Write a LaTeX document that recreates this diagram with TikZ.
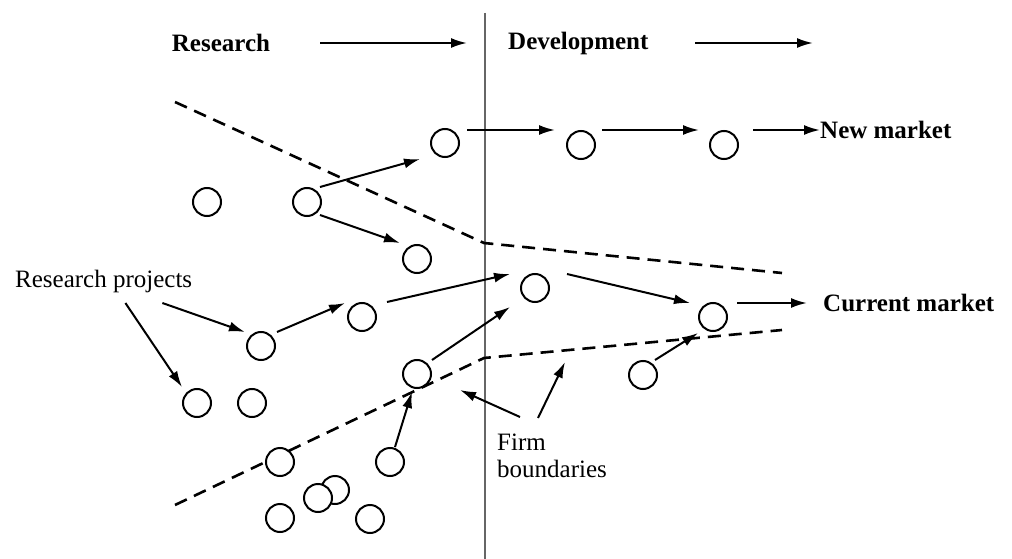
\documentclass[tikz,border=0pt]{standalone}
\usepackage{fontspec}
\setmainfont{Liberation Serif}
\usetikzlibrary{arrows.meta,calc}
\begin{document}
\begin{tikzpicture}[x=1pt,y=-1pt,
  proj/.style={circle,draw,line width=2pt,fill=white,minimum size=28pt,inner sep=0pt},
  flow/.style={-{Latex[length=16pt,width=10pt]},line width=2pt},
  bound/.style={line width=2.6pt,dash pattern=on 13pt off 8pt},
  lbl/.style={font=\fontsize{25}{27}\selectfont,inner sep=0pt},
  hdr/.style={font=\fontsize{25}{27}\selectfont\bfseries,inner sep=0pt}]
\fill[white] (0,0) rectangle (1012,559);
\useasboundingbox (0,0) rectangle (1012,559);

% divider between research and development
\coordinate (vtop) at (485,13);
\coordinate (vbot) at (485,559);
\draw[line width=2.6pt,black!60] (vtop) -- (vbot);

% firm boundaries (dashed)
\coordinate (u1) at (175,102);
\coordinate (u2) at (484,243);
\coordinate (u3) at (782,273);
\coordinate (l1) at (175,505);
\coordinate (l2) at (484,358);
\coordinate (l3) at (782,330);
\draw[bound] (u1) -- (u2) -- (u3);
\draw[bound] (l1) -- (l2) -- (l3);

% headers
\node[hdr] (res) at (221,43) {Research};
\node[hdr,anchor=west] (dev) at (508,43) {Development};
\coordinate (ra1) at (320,43);
\coordinate (ra2) at (467,43);
\coordinate (da1) at (695,43);
\coordinate (da2) at (813,43);
\draw[flow] (ra1) -- (ra2);
\draw[flow] (da1) -- (da2);

% projects
\node[proj] (c1) at (445,143) {};
\node[proj] (c2) at (581,145) {};
\node[proj] (c3) at (724,145) {};
\node[proj] (c4) at (207,202) {};
\node[proj] (c5) at (307,202) {};
\node[proj] (c6) at (417,259) {};
\node[proj] (c7) at (535,288) {};
\node[proj] (c8) at (362,317) {};
\node[proj] (c9) at (261,346) {};
\node[proj] (c10) at (713,317) {};
\node[proj] (c11) at (417,374) {};
\node[proj] (c12) at (643,375) {};
\node[proj] (c13) at (197,403) {};
\node[proj] (c14) at (252,403) {};
\node[proj] (c15) at (280,462) {};
\node[proj] (c16) at (390,462) {};
\node[proj] (c17) at (335,490) {};
\node[proj] (c18) at (318,498) {};
\node[proj] (c19) at (280,518) {};
\node[proj] (c20) at (370,519) {};

% labels
\node[hdr,anchor=west] (nm) at (820,130) {New market};
\node[hdr,anchor=west] (cm) at (823,303) {Current market};
\node[lbl,anchor=west] (rp) at (15,281) {Research projects};
\node[lbl,anchor=north west,align=left] (fb) at (497,434) {Firm\\boundaries};
\coordinate (fbt1) at (460,390);
\coordinate (fbt2) at (565,362);

% flows
\draw[flow] ($(c1)+(22,-13)$) -- ($(c2)+(-26,-15)$);
\draw[flow] ($(c2)+(21,-15)$) -- ($(c3)+(-25,-15)$);
\draw[flow] ($(c3)+(29,-15)$) -- (nm.west);
\draw[flow] ($(c5)+(13,-15)$) -- ($(c1)+(-25,16)$);
\draw[flow] ($(c5)+(13,13)$) -- ($(c6)+(-17,-16)$);
\draw[flow] ($(c9)+(16,-14)$) -- ($(c8)+(-17,-14)$);
\draw[flow] ($(c8)+(25,-15)$) -- ($(c7)+(-25,-14)$);
\draw[flow] ($(c11)+(15,-14)$) -- ($(c7)+(-25,19)$);
\draw[flow] ($(c7)+(32,-14)$) -- ($(c10)+(-23,-14)$);
\draw[flow] ($(c10)+(24,-14)$) -- ([xshift=-16pt]cm.west);
\draw[flow] ($(c12)+(12,-15)$) -- ($(c10)+(-15,16)$);
\draw[flow] ($(c16)+(5,-15)$) -- ($(c11)+(-5,18)$);

% pointers from labels
\draw[flow] ($(rp.east)+(-30,22)$) -- ($(c9)+(-16,-14)$);
\draw[flow] ($(rp.east)+(-67,22)$) -- ($(c13)+(-15,-16)$);
\draw[flow] ($(fb.north west)+(23,-17)$) -- (fbt1);
\draw[flow] ($(fb.north west)+(41,-16)$) -- (fbt2);
\end{tikzpicture}
\end{document}
